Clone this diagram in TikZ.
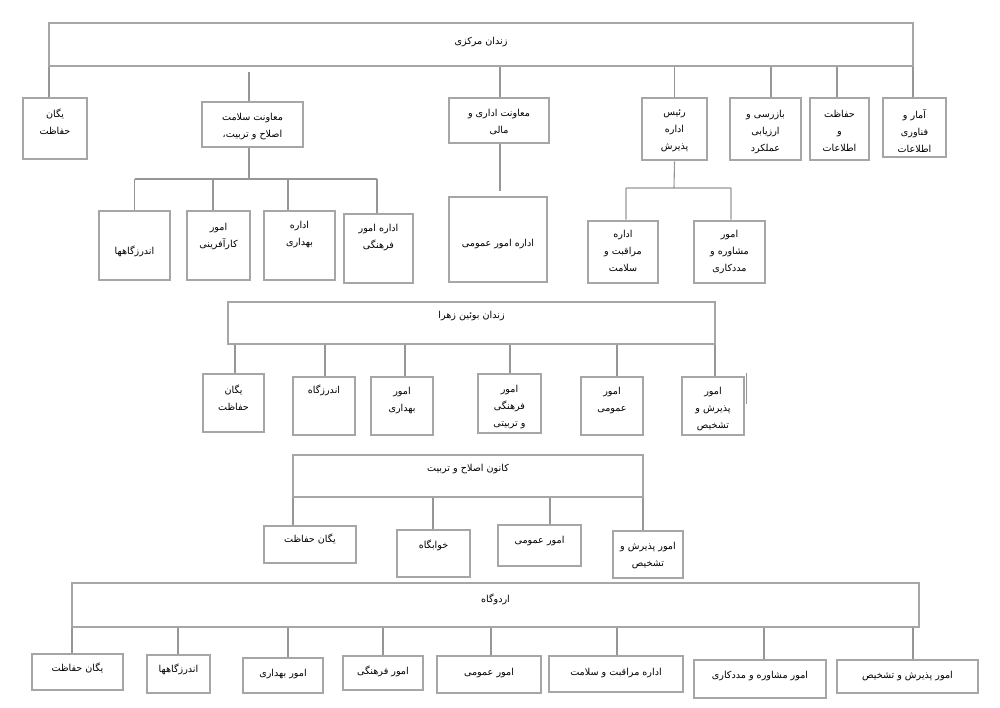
\documentclass[tikz,border=0pt]{standalone}
\usepackage{fontspec}
\usepackage{tikz}
\usetikzlibrary{positioning,calc}
\newfontfamily\arabicfont[Script=Arabic]{DejaVu Sans}
\TeXXeTstate=1
\definecolor{boxgray}{RGB}{166,166,166}
\definecolor{linegray}{RGB}{150,150,150}
\newcommand{\farsi}{\arabicfont\fontsize{9.6}{17}\selectfont}
\tikzstyle{bx}=[%
      rectangle, draw=boxgray, line width=2.6pt, fill=none,
      inner sep=0pt
]
\tikzstyle{tx}=[%
      anchor=north, inner sep=0pt, align=center, font=\farsi, text=black, yshift=-3pt
]
\tikzstyle{ln}=[%
      draw=linegray, line width=1.1pt
]

\begin{document}
\begin{tikzpicture}[x=1pt,y=-1pt]
    \useasboundingbox (0,0) rectangle (1000,707);

    % zendan markazi
    \node[bx, minimum width=864pt, minimum height=43pt, label={[tx,yshift=-12pt]north:\beginR زندان مرکزی\endR}] (markazi) at (481,44.5) {};
    \node[bx, minimum width=64pt, minimum height=61pt, label={[tx,yshift=-9pt]north:{\beginR یگان\endR\\\beginR حفاظت\endR}}] (yegan1) at (55,128.5) {};
    \node[bx, minimum width=101pt, minimum height=45pt, label={[tx,yshift=-9pt]north:{\beginR معاونت سلامت\endR\\\beginR اصلاح و تربیت،\endR}}] (salamat) at (252.5,124.5) {};
    \node[bx, minimum width=100pt, minimum height=45pt, label={[tx,yshift=-9pt]north:{\beginR معاونت اداری و\endR\\\beginR مالی\endR}}] (edari) at (499,120.5) {};
    \node[bx, minimum width=65pt, minimum height=62pt, label={[tx,yshift=-10pt]north:{\beginR رئیس\endR\\\beginR اداره\endR\\\beginR پذیرش\endR}}] (raees) at (674.5,129) {};
    \node[bx, minimum width=71pt, minimum height=62pt, label={[tx,yshift=-10pt]north:{\beginR بازرسی و\endR\\\beginR ارزیابی\endR\\\beginR عملکرد\endR}}] (bazresi) at (765.5,129) {};
    \node[bx, minimum width=59pt, minimum height=62pt, label={[tx,yshift=-10pt]north:{\beginR حفاظت\endR\\\beginR و\endR\\\beginR اطلاعات\endR}}] (hefazat) at (839.5,129) {};
    \node[bx, minimum width=63pt, minimum height=59pt, label={[tx,yshift=-10pt]north:{\beginR آمار و\endR\\\beginR فناوری\endR\\\beginR اطلاعات\endR}}] (amar) at (914.5,127.5) {};

    \node[bx, minimum width=71pt, minimum height=69pt, label={[tx,anchor=center,yshift=-3pt]center:\beginR اندرزگاهها\endR}] (andarzgah1) at (134.5,245.5) {};
    \node[bx, minimum width=63pt, minimum height=69pt, label={[tx,yshift=-10pt]north:{\beginR امور\endR\\\beginR کارآفرینی\endR}}] (karafarini) at (218.5,245.5) {};
    \node[bx, minimum width=71pt, minimum height=69pt, label={[tx,yshift=-8pt]north:{\beginR اداره\endR\\\beginR بهداری\endR}}] (behdari1) at (299.5,245.5) {};
    \node[bx, minimum width=69pt, minimum height=69pt, label={[tx,yshift=-8pt]north:{\beginR اداره امور\endR\\\beginR فرهنگی\endR}}] (farhangi1) at (378.5,248.5) {};
    \node[bx, minimum width=98pt, minimum height=85pt, label={[tx,anchor=center,yshift=-2pt]center:\beginR اداره امور عمومی\endR}] (omumi1) at (498,239.5) {};
    \node[bx, minimum width=70pt, minimum height=62pt, label={[tx,yshift=-7pt]north:{\beginR اداره\endR\\\beginR مراقبت و\endR\\\beginR سلامت\endR}}] (moraqebat1) at (623,252) {};
    \node[bx, minimum width=71pt, minimum height=62pt, label={[tx,yshift=-7pt]north:{\beginR امور\endR\\\beginR مشاوره و\endR\\\beginR مددکاری\endR}}] (moshavere1) at (729.5,252) {};

    \draw[ln] ([xshift=-6pt]yegan1.north) -- ([xshift=-6pt]yegan1.north |- markazi.south)
              ([xshift=-3.5pt]salamat.north) -- ([xshift=-3.5pt,yshift=-5pt]salamat.north |- markazi.south)
              ([xshift=1pt]edari.north) -- ([xshift=1pt]edari.north |- markazi.south)
              (raees.north) -- (raees.north |- markazi.south)
              ([xshift=5.5pt]bazresi.north) -- ([xshift=5.5pt]bazresi.north |- markazi.south)
              ([xshift=-2.5pt]hefazat.north) -- ([xshift=-2.5pt]hefazat.north |- markazi.south)
              ([xshift=-1.5pt]amar.north) -- ([xshift=-1.5pt]amar.north |- markazi.south);

    \coordinate (salamatbus) at (249,179);
    \draw[ln] ([xshift=-3.5pt]salamat.south) -- (salamatbus)
              (andarzgah1.north |- salamatbus) -- ([xshift=-1.5pt]farhangi1.north |- salamatbus)
              (andarzgah1.north) -- (andarzgah1.north |- salamatbus)
              ([xshift=-5.5pt]karafarini.north) -- ([xshift=-5.5pt]karafarini.north |- salamatbus)
              ([xshift=-11.5pt]behdari1.north) -- ([xshift=-11.5pt]behdari1.north |- salamatbus)
              ([xshift=-1.5pt]farhangi1.north) -- ([xshift=-1.5pt]farhangi1.north |- salamatbus);
    \draw[ln] ([xshift=1pt]edari.south) -- ([xshift=1pt,yshift=5pt]edari.south |- omumi1.north);
    \coordinate (raeesbus) at (674,188);
    \draw[ln] (raees.south) -- (raeesbus)
              ([xshift=3pt]moraqebat1.north |- raeesbus) -- ([xshift=1.5pt]moshavere1.north |- raeesbus)
              ([xshift=3pt]moraqebat1.north) -- ([xshift=3pt]moraqebat1.north |- raeesbus)
              ([xshift=1.5pt]moshavere1.north) -- ([xshift=1.5pt]moshavere1.north |- raeesbus);

    % zendan buin zahra
    \node[bx, minimum width=487pt, minimum height=42pt, label={[tx,yshift=-7pt]north:\beginR زندان بوئین زهرا\endR}] (buin) at (471.5,323) {};
    \node[bx, minimum width=61pt, minimum height=58pt, label={[tx,yshift=-9pt]north:{\beginR یگان\endR\\\beginR حفاظت\endR}}] (yegan2) at (233.5,403) {};
    \node[bx, minimum width=62pt, minimum height=58pt, label={[tx,yshift=-6pt]north:\beginR اندرزگاه\endR}] (andarzgah2) at (324,406) {};
    \node[bx, minimum width=62pt, minimum height=58pt, label={[tx,yshift=-8pt]north:{\beginR امور\endR\\\beginR بهداری\endR}}] (behdari2) at (402,406) {};
    \node[bx, minimum width=63pt, minimum height=59pt, label={[tx,yshift=-9pt]north:{\beginR امور\endR\\\beginR فرهنگی\endR\\\beginR و تربیتی\endR}}] (farhangi2) at (509.5,403.5) {};
    \node[bx, minimum width=62pt, minimum height=58pt, label={[tx,yshift=-8pt]north:{\beginR امور\endR\\\beginR عمومی\endR}}] (omumi2) at (612,406) {};
    \node[bx, minimum width=62pt, minimum height=58pt, label={[tx,yshift=-8pt]north:{\beginR امور\endR\\\beginR پذیرش و\endR\\\beginR تشخیص\endR}}] (paziresh2) at (713,406) {};

    \draw[ln] ([xshift=1.5pt]yegan2.north) -- ([xshift=1.5pt]yegan2.north |- buin.south)
              ([xshift=1pt]andarzgah2.north) -- ([xshift=1pt]andarzgah2.north |- buin.south)
              ([xshift=3pt]behdari2.north) -- ([xshift=3pt]behdari2.north |- buin.south)
              ([xshift=0.5pt]farhangi2.north) -- ([xshift=0.5pt]farhangi2.north |- buin.south)
              ([xshift=5pt]omumi2.north) -- ([xshift=5pt]omumi2.north |- buin.south)
              ([xshift=2pt]paziresh2.north) -- ([xshift=2pt]paziresh2.north |- buin.south);
    \draw[ln] ([xshift=1pt,yshift=3pt]paziresh2.north east) -- ++(0,31);

    % kanun eslah va tarbiat
    \node[bx, minimum width=350pt, minimum height=42pt, label={[tx,yshift=-7pt]north:\beginR کانون اصلاح و تربیت\endR}] (kanun) at (468,476) {};
    \node[bx, minimum width=92pt, minimum height=37pt, label={[tx,yshift=-6pt]north:\beginR یگان حفاظت\endR}] (yegan3) at (310,544.5) {};
    \node[bx, minimum width=73pt, minimum height=47pt, label={[tx,yshift=-8pt]north:\beginR خوابگاه\endR}] (khabgah) at (433.5,553.5) {};
    \node[bx, minimum width=83pt, minimum height=41pt, label={[tx,yshift=-9pt]north:\beginR امور عمومی\endR}] (omumi3) at (539.5,545.5) {};
    \node[bx, minimum width=70pt, minimum height=47pt, label={[tx,yshift=-9pt]north:{\beginR امور پذیرش و\endR\\\beginR تشخیص\endR}}] (paziresh3) at (648,554.5) {};

    \draw[ln] ([xshift=-17pt]yegan3.north) -- ([xshift=-17pt]yegan3.north |- kanun.south)
              ([xshift=-0.5pt]khabgah.north) -- ([xshift=-0.5pt]khabgah.north |- kanun.south)
              ([xshift=10.5pt]omumi3.north) -- ([xshift=10.5pt]omumi3.north |- kanun.south)
              ([xshift=-5pt]paziresh3.north) -- ([xshift=-5pt]paziresh3.north |- kanun.south);

    % ordugah
    \node[bx, minimum width=847pt, minimum height=44pt, label={[tx,yshift=-9pt]north:\beginR اردوگاه\endR}] (ordugah) at (495.5,605) {};
    \node[bx, minimum width=91pt, minimum height=36pt, label={[tx,yshift=-7pt]north:\beginR یگان حفاظت\endR}] (yegan4) at (77.5,672) {};
    \node[bx, minimum width=63pt, minimum height=38pt, label={[tx,yshift=-7pt]north:\beginR اندرزگاهها\endR}] (andarzgah4) at (178.5,674) {};
    \node[bx, minimum width=80pt, minimum height=35pt, label={[tx,yshift=-9pt]north:\beginR امور بهداری\endR}] (behdari4) at (283,675.5) {};
    \node[bx, minimum width=80pt, minimum height=34pt, label={[tx,yshift=-8pt]north:\beginR امور فرهنگی\endR}] (farhangi4) at (383,673) {};
    \node[bx, minimum width=104pt, minimum height=37pt, label={[tx,yshift=-10pt]north:\beginR امور عمومی\endR}] (omumi4) at (489,674.5) {};
    \node[bx, minimum width=134pt, minimum height=36pt, label={[tx,yshift=-10pt]north:\beginR اداره مراقبت و سلامت\endR}] (moraqebat4) at (616,674) {};
    \node[bx, minimum width=132pt, minimum height=38pt, label={[tx,yshift=-9pt]north:\beginR امور مشاوره و مددکاری\endR}] (moshavere4) at (760,679) {};
    \node[bx, minimum width=141pt, minimum height=33pt, label={[tx,yshift=-9pt]north:\beginR امور پذیرش و تشخیص\endR}] (paziresh4) at (907.5,676.5) {};

    \draw[ln] ([xshift=-5.5pt]yegan4.north) -- ([xshift=-5.5pt]yegan4.north |- ordugah.south)
              ([xshift=-0.5pt]andarzgah4.north) -- ([xshift=-0.5pt]andarzgah4.north |- ordugah.south)
              ([xshift=5pt]behdari4.north) -- ([xshift=5pt]behdari4.north |- ordugah.south)
              (farhangi4.north) -- (farhangi4.north |- ordugah.south)
              ([xshift=2pt]omumi4.north) -- ([xshift=2pt]omumi4.north |- ordugah.south)
              ([xshift=1pt]moraqebat4.north) -- ([xshift=1pt]moraqebat4.north |- ordugah.south)
              ([xshift=4pt]moshavere4.north) -- ([xshift=4pt]moshavere4.north |- ordugah.south)
              ([xshift=5.5pt]paziresh4.north) -- ([xshift=5.5pt]paziresh4.north |- ordugah.south);
\end{tikzpicture}
\end{document}
